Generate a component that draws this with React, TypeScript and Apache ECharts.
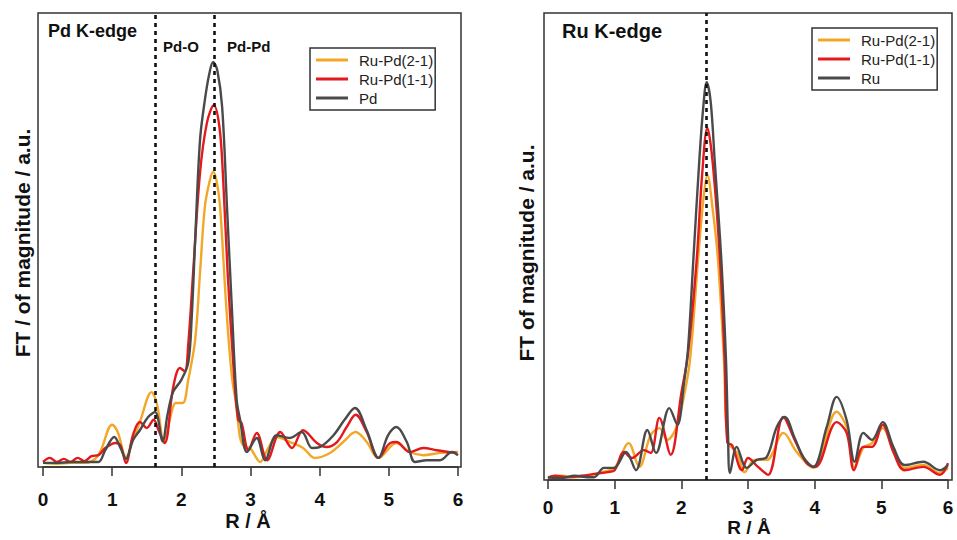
import React, { useEffect, useRef } from "react";
import * as echarts from "echarts";

// ---- data: [R (Å), FT magnitude (a.u.)] ----
const xTicks = [0, 1, 2, 3, 4, 5, 6];

const pdLeftNames = ["Ru-Pd(2-1)", "Ru-Pd(1-1)", "Pd"];
const ruRightNames = ["Ru-Pd(2-1)", "Ru-Pd(1-1)", "Ru"];

const pdEdgeRuPd21 = [[0,0.9],[0.2,0.7],[0.4,0.9],[0.6,0.9],[0.8,2.6],[1.0,9.3],[1.08,7.7],[1.2,2.2],[1.3,5.9],[1.4,9.9],[1.57,16.5],[1.65,13.7],[1.75,5.3],[1.85,11.5],[1.92,14.1],[2.02,14.1],[2.1,19.2],[2.2,28],[2.27,42.7],[2.34,57.3],[2.41,63],[2.46,65],[2.51,63],[2.56,57.3],[2.65,35.2],[2.73,20],[2.8,13.2],[2.85,6.4],[2.92,4.4],[2.99,4.2],[3.14,1.1],[3.25,4],[3.38,6.6],[3.57,5.5],[3.76,4.2],[3.93,2.0],[4.15,3.1],[4.34,5.5],[4.52,7.7],[4.68,5.5],[4.85,2.0],[5.11,5.3],[5.3,3.3],[5.5,2.6],[5.74,3.1],[6.0,3.3]];
const pdEdgeRuPd11 = [[0,1.1],[0.1,2.0],[0.2,1.1],[0.3,1.8],[0.4,1.1],[0.5,2.0],[0.6,1.3],[0.7,2.4],[0.8,2.6],[0.9,4.2],[1.05,5.3],[1.12,4.8],[1.2,0.9],[1.3,7.0],[1.4,9.9],[1.5,8.6],[1.6,10.4],[1.67,8.1],[1.76,5.3],[1.88,17.4],[1.98,21.8],[2.05,21.1],[2.1,27],[2.17,42.7],[2.27,64.8],[2.37,75.8],[2.47,79.7],[2.55,75],[2.6,64.8],[2.67,42.7],[2.76,20.7],[2.82,10.4],[2.87,9.7],[2.97,3.7],[3.09,7.5],[3.24,1.5],[3.43,7.7],[3.6,4.2],[3.76,8.1],[3.96,5.3],[4.1,4.4],[4.25,5.5],[4.39,8.8],[4.52,11.5],[4.68,7.7],[4.85,2.0],[5.02,5.3],[5.11,5.5],[5.3,3.3],[5.5,4.2],[5.69,3.7],[5.98,3.1]];
const pdEdgePd = [[0,0.9],[0.2,0.9],[0.4,1.1],[0.6,1.1],[0.8,1.1],[0.9,3.7],[1.03,6.6],[1.12,4.2],[1.2,1.8],[1.3,5.9],[1.4,8.1],[1.52,11.0],[1.62,12.1],[1.73,5.7],[1.8,11.5],[1.88,16.5],[2.0,19.2],[2.1,23],[2.15,33],[2.2,50],[2.27,72],[2.34,80.8],[2.4,86.3],[2.46,89.2],[2.52,87.4],[2.59,79.3],[2.66,57.3],[2.73,35.2],[2.8,14.8],[2.85,10.4],[2.95,3.3],[3.09,6.4],[3.21,1.5],[3.38,7.0],[3.57,6.4],[3.74,7.7],[3.89,4.2],[4.0,4.4],[4.2,7.0],[4.36,10.4],[4.51,13.0],[4.68,8.1],[4.85,2.0],[4.99,7.0],[5.11,8.8],[5.26,5.5],[5.38,1.1],[5.55,1.5],[5.74,1.5],[5.91,3.3],[6.0,2.6]];

const ruEdgeRuPd21 = [[0,0.6],[0.2,0.9],[0.4,0.6],[0.6,0.9],[0.8,1.7],[1.0,2.6],[1.21,7.9],[1.37,2.8],[1.54,9.6],[1.67,11.1],[1.79,8.6],[1.92,11.1],[2.04,18],[2.13,25.7],[2.25,47.1],[2.33,60],[2.39,65.3],[2.47,58],[2.55,47.1],[2.64,25.7],[2.7,8],[2.83,6.0],[2.95,1.7],[3.1,4.3],[3.28,4.3],[3.53,10.1],[3.73,6.0],[3.98,2.6],[4.33,14.6],[4.48,11.3],[4.6,2.6],[4.73,6.9],[4.86,7.9],[5.02,11.1],[5.18,6.4],[5.35,2.6],[5.63,3.2],[5.88,1.5],[6.0,2.6]];
const ruEdgeRuPd11 = [[0,0.4],[0.1,0.9],[0.3,0.6],[0.5,0.9],[0.7,1.3],[0.9,1.7],[1.0,2.1],[1.14,6.0],[1.26,4.7],[1.44,6.4],[1.54,5.8],[1.67,13.3],[1.84,5.4],[2.0,18.6],[2.1,27],[2.23,47.1],[2.31,65],[2.39,75.4],[2.47,68],[2.58,47.1],[2.65,25.7],[2.69,8],[2.76,7.5],[2.91,2.1],[3.0,4.7],[3.15,2.8],[3.3,1.1],[3.53,13.5],[3.7,8.6],[3.88,3.6],[4.01,2.8],[4.33,12.4],[4.48,10.1],[4.59,2.1],[4.73,7.1],[4.86,7.1],[5.02,11.8],[5.18,6.0],[5.35,2.1],[5.63,2.8],[5.88,1.1],[6.0,3.6]];
const ruEdgeRu = [[0,0.6],[0.2,0.4],[0.4,0.9],[0.6,0.6],[0.69,0.6],[0.84,2.6],[0.99,2.6],[1.17,6.0],[1.32,2.1],[1.49,10.7],[1.62,5.8],[1.82,15.4],[1.94,11.8],[2.04,20.8],[2.1,28],[2.18,47.1],[2.27,68.5],[2.33,80],[2.38,85.2],[2.44,81],[2.5,68.5],[2.6,47.1],[2.67,25.7],[2.7,10],[2.73,1.5],[2.83,7.1],[2.98,2.6],[3.13,4.3],[3.28,4.9],[3.43,11.3],[3.55,13.5],[3.7,9.0],[3.83,4.9],[3.98,2.8],[4.18,11.3],[4.33,17.8],[4.48,12.8],[4.6,3.9],[4.73,10.1],[4.86,8.6],[5.02,12.4],[5.18,7.1],[5.35,3.2],[5.63,3.9],[5.88,2.1],[6.0,3.2]];

const pdEdgeLines = [1.62, 2.47];
const ruEdgeLines = [2.37];

const COLORS = ["#F2A726", "#E3191C", "#4A4A4A"];
const FONT = "'Liberation Sans', Arial, Helvetica, sans-serif";

export default function App() {
  const ref = useRef<HTMLDivElement>(null);
  useEffect(() => {
    if (!ref.current) return;
    const chart = echarts.init(ref.current, null, { renderer: "svg" });

    const mkSeries = (name: string, data: number[][], idx: number, color: string, lines?: number[]) => {
      const s: any = {
        type: "line",
        name,
        data,
        xAxisIndex: idx,
        yAxisIndex: idx,
        symbol: "none",
        smooth: 0.35,
        lineStyle: { color, width: 2.4 },
        itemStyle: { color },
      };
      if (lines) {
        s.markLine = {
          silent: true,
          symbol: ["none", "none"],
          label: { show: false },
          lineStyle: { color: "#111", width: 2.6, type: [4, 4] },
          data: lines.map((v) => ({ xAxis: v })),
          z: 10,
        };
      }
      return s;
    };

    const xAxisCommon = (gi: number, margin: number) => ({
      type: "value",
      gridIndex: gi,
      min: xTicks[0],
      max: xTicks[xTicks.length - 1],
      interval: 1,
      axisLine: { show: true, onZero: false, lineStyle: { color: "#333", width: 1.5 } },
      axisTick: { show: true, length: 9, lineStyle: { color: "#333", width: 1.5 } },
      axisLabel: { show: true, margin, fontSize: 19, fontWeight: "bold", color: "#111", fontFamily: FONT },
      splitLine: { show: false },
    });

    const yAxisCommon = (gi: number) => ({
      type: "value",
      gridIndex: gi,
      min: 0,
      max: 100,
      show: false,
      splitLine: { show: false },
    });

    const legendCommon = {
      orient: "vertical",
      borderColor: "#333",
      borderWidth: 1.5,
      padding: [4, 2, 4, 6],
      icon: "rect",
      itemWidth: 32,
      itemHeight: 3,
      itemGap: 3,
      textStyle: { fontSize: 15, lineHeight: 16, color: "#222", fontFamily: FONT, padding: [0, 0, 0, 6] },
    };

    chart.setOption({
      animation: false,
      backgroundColor: "#ffffff",
      grid: [
        { left: 43, top: 13, width: 415, height: 454 },
        { left: 548, top: 13, width: 400, height: 467 },
      ],
      xAxis: [xAxisCommon(0, 23), xAxisCommon(1, 18)],
      yAxis: [yAxisCommon(0), yAxisCommon(1)],
      legend: [
        { ...legendCommon, left: 310, top: 48, data: pdLeftNames },
        { ...legendCommon, left: 812, top: 28, data: ruRightNames },
      ],
      series: [
        mkSeries(pdLeftNames[0], pdEdgeRuPd21, 0, COLORS[0]),
        mkSeries(pdLeftNames[1], pdEdgeRuPd11, 0, COLORS[1]),
        mkSeries(pdLeftNames[2], pdEdgePd, 0, COLORS[2], pdEdgeLines),
        mkSeries(ruRightNames[0], ruEdgeRuPd21, 1, COLORS[0]),
        mkSeries(ruRightNames[1], ruEdgeRuPd11, 1, COLORS[1]),
        mkSeries(ruRightNames[2], ruEdgeRu, 1, COLORS[2], ruEdgeLines),
      ],
      graphic: [
        { type: "rect", shape: { x: 38, y: 13, width: 423, height: 454 }, style: { fill: "none", stroke: "#333", lineWidth: 1.5 }, silent: true },
        { type: "rect", shape: { x: 544, y: 13, width: 408, height: 467 }, style: { fill: "none", stroke: "#333", lineWidth: 1.5 }, silent: true },
        { type: "text", x: 48, y: 31, style: { text: "Pd K-edge", font: `bold 18px ${FONT}`, fill: "#111", textVerticalAlign: "middle" } },
        { type: "text", x: 163, y: 46, style: { text: "Pd-O", font: `bold 15px ${FONT}`, fill: "#111", textVerticalAlign: "middle" } },
        { type: "text", x: 227, y: 46, style: { text: "Pd-Pd", font: `bold 15px ${FONT}`, fill: "#111", textVerticalAlign: "middle" } },
        { type: "text", x: 562, y: 31, style: { text: "Ru K-edge", font: `bold 20px ${FONT}`, fill: "#111", textVerticalAlign: "middle" } },
        { type: "text", x: 248, y: 521, style: { text: "R / Å", font: `bold 20px ${FONT}`, fill: "#111", textAlign: "center", textVerticalAlign: "middle" } },
        { type: "text", x: 749, y: 527, style: { text: "R / Å", font: `bold 19px ${FONT}`, fill: "#111", textAlign: "center", textVerticalAlign: "middle" } },
        { type: "text", x: 22, y: 243, rotation: Math.PI / 2, style: { text: "FT / of magnitude / a.u.", font: `bold 21px ${FONT}`, fill: "#111", textAlign: "center", textVerticalAlign: "middle" } },
        { type: "text", x: 526, y: 253, rotation: Math.PI / 2, style: { text: "FT of magnitude / a.u.", font: `bold 21px ${FONT}`, fill: "#111", textAlign: "center", textVerticalAlign: "middle" } },
      ],
    });
    return () => chart.dispose();
  }, []);

  return (
    <div
      ref={ref}
      style={{ position: "fixed", left: 0, top: 0, width: 957, height: 540, background: "#fff" }}
    />
  );
}
